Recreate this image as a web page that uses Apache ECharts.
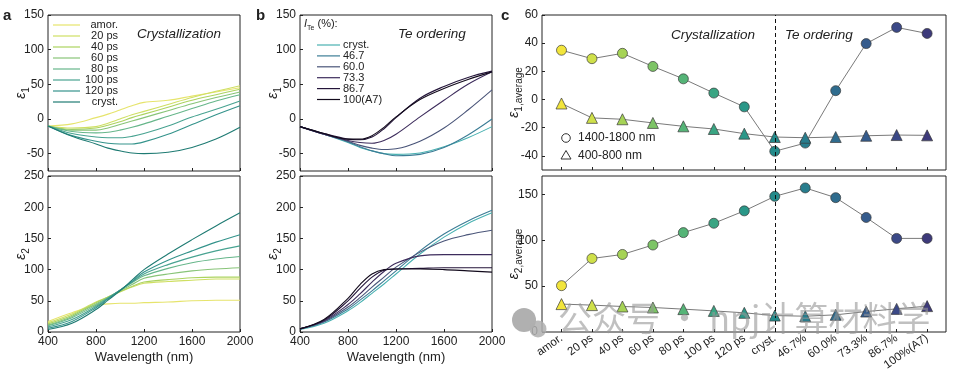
<!DOCTYPE html>
<html>
<head>
<meta charset="utf-8">
<script src="https://cdn.jsdelivr.net/npm/echarts@6/dist/echarts.min.js"></script>
<style>
html, body { margin: 0; padding: 0; background: #fff; }
#chart { width: 964px; height: 377px; }
</style>
</head>
<body>
<div id="chart"></div>
<script>
// wavelength grid (nm) shared by panels a and b
const wavelengths = [400, 600, 800, 900, 1000, 1100, 1200, 1400, 1600, 1800, 2000];

// panel a: crystallization series
const crystNames = ['amor.', '20 ps', '40 ps', '60 ps', '80 ps', '100 ps', '120 ps', 'cryst.'];
const crystColors = ['#e6e46c', '#cfdf62', '#acd35f', '#88c478', '#66b68a', '#48a391', '#34938b', '#1f7b73'];
const eps1Cryst = [
  [-10, -7, 2, 7, 13, 19, 24, 27, 33, 39, 45],
  [-10, -13, -11, -6, 0, 6, 11, 21, 31, 40, 48],
  [-10, -15, -13, -9, -4, 2, 7, 17, 27, 35, 43],
  [-10, -16, -16, -13, -8, -3, 2, 12, 22, 31, 39],
  [-10, -18, -20, -19, -16, -12, -7, 4, 15, 26, 35],
  [-10, -21, -26, -27, -27, -25, -21, -10, 3, 14, 26],
  [-10, -24, -32, -35, -36, -36, -33, -22, -8, 6, 19],
  [-10, -25, -36, -42, -46, -49, -50, -48, -41, -29, -12]
];
const eps2Cryst = [
  [17, 31, 43, 45, 46, 46, 47, 48, 50, 51, 51],
  [15, 29, 48, 56, 64, 72, 78, 81, 83, 85, 85],
  [13, 27, 47, 56, 65, 73, 80, 84, 87, 88, 88],
  [11, 25, 45, 55, 66, 76, 86, 93, 98, 101, 103],
  [10, 23, 43, 55, 67, 79, 90, 102, 111, 117, 121],
  [8, 20, 41, 54, 67, 80, 93, 108, 120, 130, 138],
  [6, 17, 39, 53, 67, 81, 96, 115, 130, 144, 156],
  [4, 14, 36, 51, 66, 83, 100, 125, 148, 170, 191]
];

// panel b: Te ordering series
const teNames = ['cryst.', '46.7', '60.0', '73.3', '86.7', '100(A7)'];
const teColors = ['#48b1b1', '#3c7d96', '#4a5579', '#3d2c5c', '#24153a', '#120a1c'];
const eps1Te = [
  [-11, -22, -34, -41, -46, -50, -51, -49, -40, -27, -11],
  [-11, -22, -33, -40, -46, -50, -53, -51, -41, -23, 0],
  [-11, -22, -32, -38, -42, -44, -43, -32, -13, 13, 42],
  [-11, -22, -31, -34, -35, -31, -22, 3, 27, 50, 68],
  [-11, -21, -29, -30, -26, -14, 2, 30, 47, 60, 69],
  [-11, -21, -29, -29, -24, -12, 3, 28, 44, 57, 68]
];
const eps2Te = [
  [4, 14, 34, 47, 62, 77, 93, 125, 152, 174, 191],
  [5, 16, 37, 51, 66, 82, 98, 130, 157, 178, 195],
  [5, 17, 40, 55, 72, 88, 104, 128, 146, 156, 163],
  [5, 18, 44, 61, 80, 97, 110, 122, 124, 124, 124],
  [5, 19, 50, 70, 88, 99, 101, 102, 103, 103, 103],
  [5, 20, 54, 76, 93, 100, 101, 101, 100, 98, 96]
];

// panel c: averages per stage
const stageNames = ['amor.', '20 ps', '40 ps', '60 ps', '80 ps', '100 ps', '120 ps', 'cryst.', '46.7%', '60.0%', '73.3%', '86.7%', '100%(A7)'];
const stageColors = ['#f2e53c', '#cfe04a', '#a6d356', '#7dc466', '#55b477', '#3aa583', '#2a9788', '#238a8a', '#287d8d', '#2f6c8e', '#355b8c', '#3b4987', '#3d3a7a'];
const eps1AvgIR = [35, 29, 32.8, 23.5, 14.7, 4.6, -5.2, -36.7, -30.9, 6.3, 39.7, 51.2, 46.9];
const eps1AvgVis = [-2.8, -13, -14, -16.6, -19, -20.9, -24.2, -26.6, -27.1, -26.6, -25.7, -25.2, -25.4];
const eps2AvgIR = [50.5, 80.1, 84.5, 94.8, 108.3, 118.5, 132, 147.8, 157, 146.4, 124.8, 102, 102];
const eps2AvgVis = [30.4, 29.3, 27.8, 26.7, 24.9, 23, 20.9, 17.9, 17.2, 18.7, 22.3, 25.2, 28.2];
const stageIdx = stageNames.map((n, i) => i);

const FONT = 'Liberation Sans, Arial, sans-serif';
const INK = '#222';

const myChart = echarts.init(document.getElementById('chart'), null, { renderer: 'canvas' });

function gridBox(left, top, width, height) {
  return { left, top, width, height, show: true, borderColor: INK, borderWidth: 1, backgroundColor: 'transparent' };
}

function epsName(sub) {
  return '{e|ε}{s|' + sub + '}';
}
const epsRich = {
  e: { fontSize: 14, fontStyle: 'italic', fontFamily: FONT, color: INK, padding: [0, 0, 3, 0], verticalAlign: 'bottom' },
  s: { fontSize: 10, fontFamily: FONT, color: INK, verticalAlign: 'bottom' }
};

function waveAxis(gi, withLabels) {
  return {
    type: 'value', gridIndex: gi, min: 400, max: 2000, interval: 400,
    axisLine: { show: false, onZero: false },
    axisTick: { inside: true, length: 3, lineStyle: { color: INK } },
    axisLabel: { show: withLabels, fontSize: 12, color: INK, margin: 4, fontFamily: FONT, formatter: v => String(v) },
    splitLine: { show: false },
    name: withLabels ? 'Wavelength (nm)' : '',
    nameLocation: 'middle', nameGap: 19, nameMoveOverlap: false,
    nameTextStyle: { fontSize: 13, color: INK, fontFamily: FONT }
  };
}

function valAxis(gi, min, max, ticks, sub, gap) {
  return {
    type: 'value', gridIndex: gi, min, max,
    axisLine: { show: false, onZero: false },
    axisTick: { inside: true, length: 3, customValues: ticks, lineStyle: { color: INK } },
    axisLabel: { fontSize: 12, color: INK, margin: 4, fontFamily: FONT, customValues: ticks },
    splitLine: { show: false },
    name: epsName(sub), nameLocation: 'middle', nameGap: gap, nameRotate: 90, nameMoveOverlap: false,
    nameTextStyle: { rich: epsRich }
  };
}

function stageAxis(gi, withLabels) {
  return {
    type: 'value', gridIndex: gi, min: -0.64, max: 12.62,
    axisLine: { show: false, onZero: false },
    axisTick: { inside: true, length: 3, customValues: stageIdx, lineStyle: { color: INK } },
    axisLabel: {
      show: withLabels, customValues: stageIdx, rotate: 35, fontSize: 11.5, color: INK, margin: 5, fontFamily: FONT,
      formatter: v => stageNames[Math.round(v)]
    },
    splitLine: { show: false }
  };
}

function curve(name, vals, color, ai) {
  return {
    name, type: 'line', xAxisIndex: ai, yAxisIndex: ai,
    data: wavelengths.map((w, i) => [w, vals[i]]),
    smooth: 0.35, symbol: 'none', silent: true,
    lineStyle: { color, width: 1.1 }
  };
}

const dashLine = {
  silent: true, symbol: 'none', label: { show: false },
  lineStyle: { type: [4, 3], color: '#111', width: 1 },
  data: [{ xAxis: 7 }]
};

function avgSeries(vals, ai, symbol, withMark) {
  return {
    type: 'line', xAxisIndex: ai, yAxisIndex: ai, silent: true,
    symbol, symbolSize: symbol === 'circle' ? 10 : 11,
    lineStyle: { color: '#7a7a7a', width: 1 },
    data: vals.map((v, i) => ({ value: [i, v], itemStyle: { color: stageColors[i], borderColor: '#3a3a3a', borderWidth: 0.7 } })),
    markLine: withMark ? dashLine : undefined,
    z: 3
  };
}

const series = [];
crystNames.forEach((n, i) => series.push(curve(n, eps1Cryst[i], crystColors[i], 0)));
crystNames.forEach((n, i) => series.push(curve(n, eps2Cryst[i], crystColors[i], 1)));
teNames.forEach((n, i) => series.push(curve(n, eps1Te[i], teColors[i], 2)));
teNames.forEach((n, i) => series.push(curve(n, eps2Te[i], teColors[i], 3)));
series.push(avgSeries(eps1AvgIR, 4, 'circle', true));
series.push(avgSeries(eps1AvgVis, 4, 'triangle', false));
series.push(avgSeries(eps2AvgIR, 5, 'circle', true));
series.push(avgSeries(eps2AvgVis, 5, 'triangle', false));

// legends and annotations drawn as graphics
const graphics = [];
function txt(x, y, text, opts) {
  graphics.push({
    type: 'text', x, y, silent: true, z: 10,
    style: Object.assign({ text, fill: INK, font: '12px ' + FONT, textVerticalAlign: 'middle' }, opts || {})
  });
}
function seg(x1, y1, x2, y2, color) {
  graphics.push({ type: 'line', silent: true, z: 10, shape: { x1, y1, x2, y2 }, style: { stroke: color, lineWidth: 1.2 } });
}

// panel letters
txt(3, 16, 'a', { font: 'bold 15px ' + FONT });
txt(256, 16, 'b', { font: 'bold 15px ' + FONT });
txt(501, 16, 'c', { font: 'bold 15px ' + FONT });

// panel titles
txt(137, 34, 'Crystallization', { font: 'italic 13.5px ' + FONT });
txt(398, 34, 'Te ordering', { font: 'italic 13.5px ' + FONT });
txt(671, 35, 'Crystallization', { font: 'italic 13.5px ' + FONT });
txt(785, 35, 'Te ordering', { font: 'italic 13.5px ' + FONT });

// legend a
crystNames.forEach((n, i) => {
  const y = 25 + i * 11;
  seg(53, y, 80, y, crystColors[i]);
  txt(118, y, n, { font: '11px ' + FONT, textAlign: 'right' });
});

// legend b
graphics.push({
  type: 'text', x: 304, y: 25, silent: true, z: 10,
  style: {
    text: '{i|I}{s|Te}{t| (%):}', textVerticalAlign: 'middle',
    rich: {
      i: { font: 'italic 11px ' + FONT, fill: INK, padding: [0, 0, 2, 0], verticalAlign: 'bottom' },
      s: { font: '7px ' + FONT, fill: INK, verticalAlign: 'bottom' },
      t: { font: '11px ' + FONT, fill: INK, padding: [0, 0, 2, 0], verticalAlign: 'bottom' }
    }
  }
});
teNames.forEach((n, i) => {
  const y = 45 + i * 10.9;
  seg(317, y, 340, y, teColors[i]);
  txt(343, y, n, { font: '11px ' + FONT });
});

// legend c
graphics.push({ type: 'circle', silent: true, z: 10, shape: { cx: 566, cy: 138, r: 4.3 }, style: { fill: '#fff', stroke: '#333', lineWidth: 1 } });
graphics.push({ type: 'polygon', silent: true, z: 10, shape: { points: [[566, 150.5], [571, 159], [561, 159]] }, style: { fill: '#fff', stroke: '#333', lineWidth: 1 } });
txt(578, 138, '1400-1800 nm');
txt(578, 156, '400-800 nm');

// watermark
graphics.push({ type: 'circle', silent: true, z: 20, shape: { cx: 524, cy: 320, r: 12 }, style: { fill: 'rgba(150,150,150,0.75)' } });
graphics.push({ type: 'circle', silent: true, z: 21, shape: { cx: 538, cy: 329, r: 8.5 }, style: { fill: 'rgba(175,175,175,0.85)' } });
txt(558, 318, '公众号 · npj计算材料学', { font: '34px "Noto Sans CJK SC", sans-serif', fill: 'rgba(150,150,150,0.6)' });
graphics[graphics.length - 1].z = 22;

myChart.setOption({
  animation: false,
  backgroundColor: '#fff',
  textStyle: { fontFamily: FONT },
  grid: [
    gridBox(48, 15, 192, 156),
    gridBox(48, 176, 192, 156),
    gridBox(300, 15, 192, 156),
    gridBox(300, 176, 192, 156),
    gridBox(542, 15, 404, 155),
    gridBox(542, 176, 404, 156)
  ],
  xAxis: [
    waveAxis(0, false),
    waveAxis(1, true),
    waveAxis(2, false),
    waveAxis(3, true),
    stageAxis(4, false),
    stageAxis(5, true)
  ],
  yAxis: [
    valAxis(0, -75, 150, [-50, 0, 50, 100, 150], '1', 17),
    valAxis(1, 0, 250, [0, 50, 100, 150, 200, 250], '2', 17),
    valAxis(2, -75, 150, [-50, 0, 50, 100, 150], '1', 17),
    valAxis(3, 0, 250, [0, 50, 100, 150, 200, 250], '2', 17),
    valAxis(4, -50, 60, [-40, -20, 0, 20, 40, 60], '1,average', 18),
    valAxis(5, 0, 170, [0, 50, 100, 150], '2,average', 18)
  ],
  series,
  graphic: graphics
});
</script>
</body>
</html>
